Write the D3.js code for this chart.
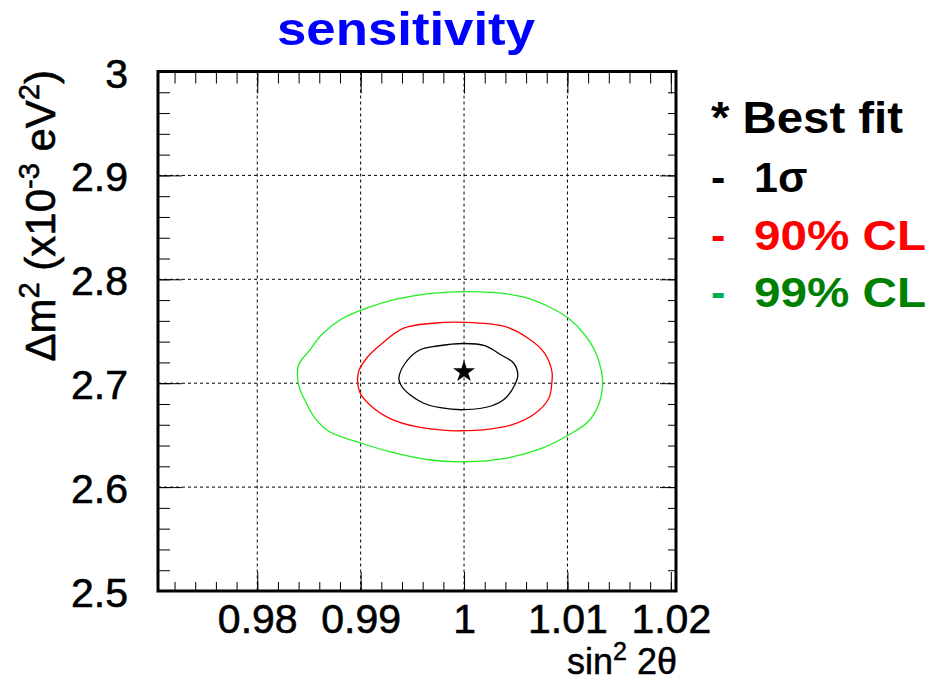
<!DOCTYPE html>
<html>
<head>
<meta charset="utf-8">
<script src="https://cdn.jsdelivr.net/npm/d3@7"></script>
<style>
body { margin: 0; background: #fff; }
svg { display: block; }
text { font-family: "Liberation Sans", Arial, Helvetica, sans-serif; }
</style>
</head>
<body>
<svg id="chart"></svg>
<script>

// axis ranges and ticks
var sin2Range = [0.9704, 1.0205]
var dm2Range = [2.5, 3.0]
var xMajor = [0.98, 0.99, 1.00, 1.01, 1.02]
var xLabels = ["0.98", "0.99", "1", "1.01", "1.02"]
var yMajor = [2.5, 2.6, 2.7, 2.8, 2.9, 3.0]
var yLabels = ["2.5", "2.6", "2.7", "2.8", "2.9", "3"]
var xGrid = [0.98, 0.99, 1.00, 1.01]
var yGrid = [2.6, 2.7, 2.8, 2.9]

// best fit point
var bestFit = [1.000, 2.711]

// contours (sin^2 2theta , dm^2)
var sigma1_x = [1.0000, 0.9974, 0.9957, 0.9943, 0.9937, 0.9940, 0.9948, 0.9961, 0.9977, 1.0000, 1.0027, 1.0040, 1.0049, 1.0052, 1.0048, 1.0036, 1.0020]
var sigma1_y = [2.7382, 2.7358, 2.7320, 2.7192, 2.7047, 2.6966, 2.6886, 2.6807, 2.6764, 2.6745, 2.6783, 2.6855, 2.6983, 2.7079, 2.7192, 2.7271, 2.7361]

var cl90_x = [1.0000, 0.9970, 0.9941, 0.9919, 0.9907, 0.9898, 0.9899, 0.9909, 0.9928, 0.9954, 0.9986, 1.0000, 1.0017, 1.0046, 1.0069, 1.0082, 1.0085, 1.0085, 1.0078, 1.0062, 1.0040]
var cl90_y = [2.7586, 2.7577, 2.7528, 2.7368, 2.7255, 2.7111, 2.6918, 2.6790, 2.6662, 2.6581, 2.6543, 2.6543, 2.6550, 2.6598, 2.6710, 2.6855, 2.7014, 2.7111, 2.7288, 2.7432, 2.7544]

var cl99_x = [1.0000, 0.9938, 0.9901, 0.9880, 0.9862, 0.9851, 0.9840, 0.9840, 0.9845, 0.9856, 0.9870, 0.9901, 0.9928, 0.9967, 1.0000, 1.0040, 1.0075, 1.0101, 1.0120, 1.0130, 1.0134, 1.0133, 1.0127, 1.0117, 1.0101, 1.0082, 1.0056]
var cl99_y = [2.7881, 2.7817, 2.7705, 2.7608, 2.7464, 2.7320, 2.7175, 2.6983, 2.6858, 2.6662, 2.6533, 2.6422, 2.6341, 2.6261, 2.6244, 2.6277, 2.6373, 2.6501, 2.6629, 2.6790, 2.6983, 2.7111, 2.7303, 2.7464, 2.7625, 2.7736, 2.7833]

var legendLabels = ["* Best fit", "1\u03c3", "90% CL", "99% CL"]

var dimensions = {
    width: 930,
    height: 682,
    frame: {left: 158, right: 676, top: 71.5, bottom: 591}
}
var f = dimensions.frame

var svg = d3.select("#chart")
        .attr("width", dimensions.width)
        .attr("height", dimensions.height)

var xScale = d3.scaleLinear().domain(sin2Range).range([f.left, f.right])
var yScale = d3.scaleLinear().domain(dm2Range).range([f.bottom, f.top])

// grid
svg.append("g").selectAll("line")
    .data(xGrid)
    .enter().append("line")
    .attr("x1", d => xScale(d)).attr("x2", d => xScale(d))
    .attr("y1", f.top).attr("y2", f.bottom)
    .attr("stroke", "black").attr("stroke-width", 1)
    .attr("stroke-dasharray", "3,3")

svg.append("g").selectAll("line")
    .data(yGrid)
    .enter().append("line")
    .attr("x1", f.left).attr("x2", f.right)
    .attr("y1", d => yScale(d)).attr("y2", d => yScale(d))
    .attr("stroke", "black").attr("stroke-width", 1)
    .attr("stroke-dasharray", "3,3")

// ticks, all four sides, pointing inward
function tickAxis(axis, transform, values, size, pad, fmt) {
    var g = svg.append("g")
        .attr("transform", transform)
        .call(axis.tickValues(values).tickSize(size).tickPadding(pad).tickFormat(fmt))
    g.select(".domain").remove()
    g.selectAll("line").attr("stroke", "black").attr("stroke-width", 1)
    return g
}

var xMinor = xScale.ticks(25)
var yMinor = yScale.ticks(25)

tickAxis(d3.axisBottom(xScale), "translate(0," + f.bottom + ")", xMinor, -9, 0, "")
tickAxis(d3.axisTop(xScale), "translate(0," + f.top + ")", xMinor, -12, 0, "")
tickAxis(d3.axisLeft(yScale), "translate(" + f.left + ",0)", yMinor, -12, 0, "")
tickAxis(d3.axisRight(yScale), "translate(" + f.right + ",0)", yMinor, -8, 0, "")
tickAxis(d3.axisTop(xScale), "translate(0," + f.top + ")", xMajor, -22, 0, "")
tickAxis(d3.axisRight(yScale), "translate(" + f.right + ",0)", yMajor, -16, 0, "")

var xAxis = tickAxis(d3.axisBottom(xScale), "translate(0," + f.bottom + ")", xMajor, -19, 13, (d, i) => xLabels[i])
xAxis.selectAll("text")
    .attr("font-size", 41)
    .attr("font-family", "Liberation Sans, Arial, sans-serif")
    .attr("fill", "black")
    .attr("stroke", "black").attr("stroke-width", 0.6)

var yAxis = tickAxis(d3.axisLeft(yScale), "translate(" + f.left + ",0)", yMajor, -24, 30, (d, i) => yLabels[i])
yAxis.selectAll("text")
    .attr("font-size", 41)
    .attr("font-family", "Liberation Sans, Arial, sans-serif")
    .attr("fill", "black")
    .attr("stroke", "black").attr("stroke-width", 0.6)
    .attr("dy", "0.38em")

// contours
var contour = d3.line()
    .x(d => xScale(d[0]))
    .y(d => yScale(d[1]))
    .curve(d3.curveCatmullRomClosed)

var contours = [
    {pts: d3.zip(cl99_x, cl99_y), color: "#22ee22"},
    {pts: d3.zip(cl90_x, cl90_y), color: "#ff0000"},
    {pts: d3.zip(sigma1_x, sigma1_y), color: "#000000"}
]

svg.append("g").selectAll("path")
    .data(contours)
    .enter().append("path")
    .attr("d", d => contour(d.pts))
    .attr("fill", "none")
    .attr("stroke", d => d.color)
    .attr("stroke-width", 1.3)

svg.append("path")
    .attr("d", d3.symbol(d3.symbolStar, 150)())
    .attr("transform", "translate(" + xScale(bestFit[0]) + "," + yScale(bestFit[1]) + ")")
    .attr("fill", "black")

// frame
svg.append("rect")
    .attr("x", f.left).attr("y", f.top)
    .attr("width", f.right - f.left).attr("height", f.bottom - f.top)
    .attr("fill", "none").attr("stroke", "black").attr("stroke-width", 3)

// title
svg.append("text")
    .attr("x", 277).attr("y", 45)
    .attr("font-size", 46).attr("font-weight", "bold")
    .attr("fill", "#0000ff")
    .attr("textLength", 258).attr("lengthAdjust", "spacingAndGlyphs")
    .text("sensitivity")

// x title
var xt = svg.append("text")
    .attr("x", 677).attr("y", 674)
    .attr("text-anchor", "end")
    .attr("font-size", 36)
    .attr("stroke", "black").attr("stroke-width", 0.5)
xt.append("tspan").text("sin")
xt.append("tspan").attr("font-size", 25).attr("dy", -14).text("2")
xt.append("tspan").attr("dy", 14).text(" 2\u03b8")

// y title
var yt = svg.append("text")
    .attr("transform", "translate(55,70) rotate(-90)")
    .attr("text-anchor", "end")
    .attr("font-size", 42)
    .attr("stroke", "black").attr("stroke-width", 0.6)
yt.append("tspan").text("\u0394m")
yt.append("tspan").attr("font-size", 29).attr("dy", -16).text("2")
yt.append("tspan").attr("dy", 16).text(" (x10")
yt.append("tspan").attr("font-size", 29).attr("dy", -16).text("-3")
yt.append("tspan").attr("dy", 16).text(" eV")
yt.append("tspan").attr("font-size", 29).attr("dy", -16).text("2")
yt.append("tspan").attr("dy", 16).text(")")

// legend
var legend = svg.append("g").attr("font-weight", "bold")
legend.append("text")
    .attr("x", 711).attr("y", 133).attr("font-size", 44)
    .attr("textLength", 192).attr("lengthAdjust", "spacingAndGlyphs")
    .text(legendLabels[0])

var rows = [
    {y: 191.5, dash: "black", color: "black", width: null},
    {y: 250, dash: "#ff0000", color: "#ff0000", width: 172},
    {y: 306.5, dash: "#00b050", color: "#008000", width: 172}
]
rows.forEach(function (r, i) {
    legend.append("text")
        .attr("x", 711).attr("y", r.y).attr("font-size", 43)
        .attr("fill", r.dash)
        .text("-")
    var t = legend.append("text")
        .attr("x", 754).attr("y", r.y).attr("font-size", 43)
        .attr("fill", r.color)
        .text(legendLabels[i + 1])
    if (r.width) t.attr("textLength", r.width).attr("lengthAdjust", "spacingAndGlyphs")
})

</script>
</body>
</html>
